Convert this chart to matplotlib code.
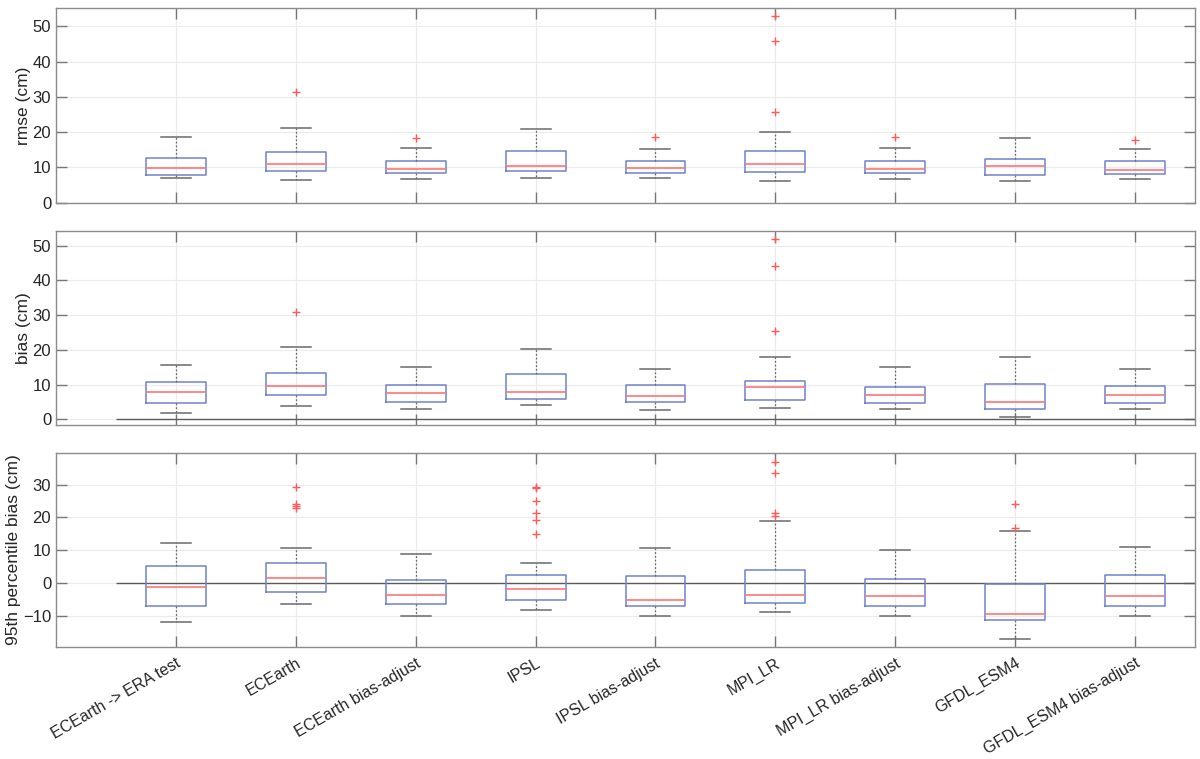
import matplotlib
matplotlib.use("Agg")
import matplotlib.pyplot as plt

plt.rcParams['font.family'] = ['Liberation Sans', 'DejaVu Sans']

categories = ["ECEarth -> ERA test", "ECEarth", "ECEarth bias-adjust", "IPSL",
              "IPSL bias-adjust", "MPI_LR", "MPI_LR bias-adjust", "GFDL_ESM4",
              "GFDL_ESM4 bias-adjust"]

# rmse (cm)
rmse_whislo = [6.9, 6.4, 6.6, 7.0, 7.1, 6.1, 6.8, 6.2, 6.6]
rmse_q1     = [7.8, 8.9, 8.4, 9.0, 8.5, 8.6, 8.4, 7.8, 8.2]
rmse_med    = [9.9, 10.9, 9.6, 10.4, 9.9, 11.1, 9.6, 10.3, 9.4]
rmse_q3     = [12.7, 14.5, 11.9, 14.6, 11.9, 14.7, 11.9, 12.5, 11.8]
rmse_whishi = [18.7, 21.1, 15.6, 20.8, 15.3, 19.9, 15.4, 18.4, 15.2]
rmse_fliers = [[], [31.3], [18.3], [], [18.5], [52.8, 45.8, 25.8], [18.5], [], [17.9]]

# bias (cm)
bias_whislo = [1.8, 3.9, 3.1, 4.2, 2.8, 3.4, 3.1, 0.8, 3.1]
bias_q1     = [4.7, 6.9, 4.9, 5.8, 4.9, 5.5, 4.8, 3.1, 4.7]
bias_med    = [7.8, 9.5, 7.5, 8.0, 6.6, 9.2, 6.9, 4.9, 7.1]
bias_q3     = [10.9, 13.3, 9.8, 13.1, 9.8, 11.2, 9.4, 10.1, 9.6]
bias_whishi = [15.7, 20.7, 15.0, 20.4, 14.4, 18.1, 15.2, 18.0, 14.5]
bias_fliers = [[], [30.9], [], [], [], [51.8, 44.1, 25.3], [], [], []]

# 95th percentile bias (cm)
p95_whislo = [-11.7, -6.4, -9.9, -8.2, -9.9, -8.9, -9.9, -17.0, -10.0]
p95_q1     = [-7.0, -2.8, -6.3, -5.2, -6.9, -5.9, -6.8, -11.3, -6.8]
p95_med    = [-1.3, 1.5, -3.5, -1.9, -5.0, -3.5, -3.9, -9.3, -4.0]
p95_q3     = [5.2, 6.2, 1.1, 2.6, 2.1, 4.1, 1.4, -0.2, 2.4]
p95_whishi = [12.3, 10.8, 8.9, 6.2, 10.6, 18.9, 10.1, 16.0, 11.0]
p95_fliers = [[], [29.3, 24.0, 23.6, 22.8], [], [29.4, 29.1, 24.9, 21.3, 19.2, 15.0],
              [], [37.0, 33.6, 21.5, 20.4], [], [24.2, 16.7], []]

panels = [
    ("rmse (cm)", rmse_whislo, rmse_q1, rmse_med, rmse_q3, rmse_whishi, rmse_fliers,
     (0, 55.1), [0, 10, 20, 30, 40, 50], False),
    ("bias (cm)", bias_whislo, bias_q1, bias_med, bias_q3, bias_whishi, bias_fliers,
     (-1.6, 54.3), [0, 10, 20, 30, 40, 50], True),
    ("95th percentile bias (cm)", p95_whislo, p95_q1, p95_med, p95_q3, p95_whishi, p95_fliers,
     (-19.5, 39.7), [-10, 0, 10, 20, 30], True),
]

fig = plt.figure(figsize=(12, 7.59), dpi=100)
W, H = 1200.0, 759.0
left = 56 / W
width = (1195 - 56) / W
tops = [8.3, 230.7, 452.7]
bots = [202.7, 425.0, 647.3]

positions = list(range(1, len(categories) + 1))

for i, (ylabel, wlo, q1, med, q3, whi, fl, ylim, yticks, zero_line) in enumerate(panels):
    ax = fig.add_axes([left, 1 - bots[i] / H, width, (bots[i] - tops[i]) / H])
    stats = []
    for k in range(len(categories)):
        stats.append(dict(med=med[k], q1=q1[k], q3=q3[k], whislo=wlo[k], whishi=whi[k],
                          fliers=fl[k], label=categories[k]))
    if zero_line:
        ax.hlines(0, 0.5, 9.5, color='#5a5a5a', lw=1.0, zorder=1)
    ax.bxp(stats, positions=positions, widths=0.5, showfliers=True,
           boxprops=dict(color='#6f82d0', lw=1.1),
           medianprops=dict(color='#ff7575', lw=1.2),
           whiskerprops=dict(color='#6a6a6a', lw=0.9, ls=(0, (1.5, 1.5))),
           capprops=dict(color='#6a6a6a', lw=1.1),
           flierprops=dict(marker='+', markeredgecolor='#ff5a5a', markersize=6,
                           markeredgewidth=1.0, linestyle='none'),
           manage_ticks=False, zorder=3)
    ax.set_xlim(0, 9.5)
    ax.set_ylim(*ylim)
    ax.set_yticks(yticks)
    ax.set_xticks(positions)
    ax.grid(True, color='#ebebeb', lw=0.8)
    ax.set_axisbelow(True)
    ax.tick_params(direction='in', length=8, width=1.0, color='#777777',
                   top=True, right=True, labelsize=12, labelcolor='#262626')
    ax.tick_params(axis='x', pad=6)
    for sp in ax.spines.values():
        sp.set_color('#8c8c8c')
        sp.set_linewidth(1.0)
    ax.set_ylabel(ylabel, fontsize=12.5, color='#262626', labelpad=1)
    if i == 2:
        ax.set_xticklabels(categories, rotation=30, ha='right', rotation_mode='anchor',
                           fontsize=11.5, color='#262626')
    else:
        ax.set_xticklabels([])

fig.savefig("out.png", dpi=100, facecolor='white')
